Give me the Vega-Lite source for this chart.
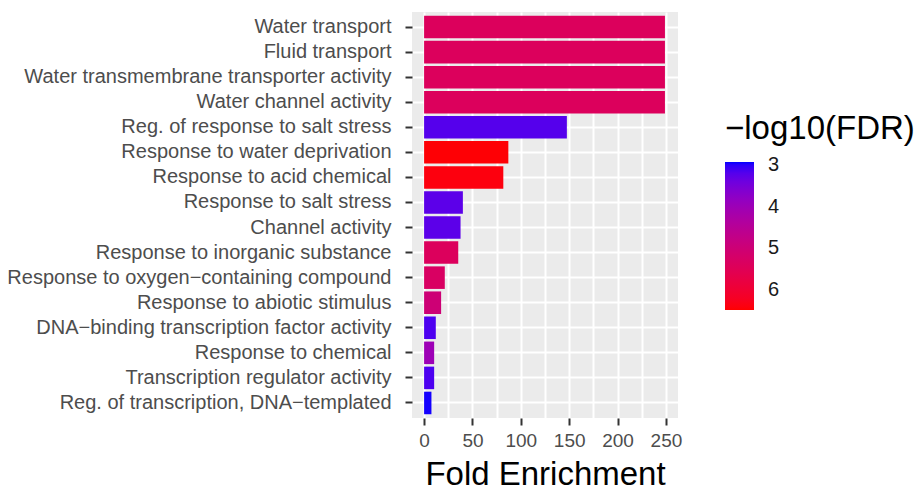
{
  "$schema": "https://vega.github.io/schema/vega-lite/v6.json",
  "autosize": "none",
  "width": 266,
  "height": 406,
  "padding": {"left": 412, "top": 12, "right": 239, "bottom": 76},
  "background": "white",
  "config": {
    "font": "Liberation Sans",
    "view": {"fill": "#EBEBEB", "stroke": null}
  },
  "data": {
    "values": [
      {"term": "Water transport", "fold": 249, "fdr": 5.4},
      {"term": "Fluid transport", "fold": 249, "fdr": 5.4},
      {"term": "Water transmembrane transporter activity", "fold": 249, "fdr": 5.4},
      {"term": "Water channel activity", "fold": 249, "fdr": 5.4},
      {"term": "Reg. of response to salt stress", "fold": 147.6, "fdr": 3.2},
      {"term": "Response to water deprivation", "fold": 87.1, "fdr": 6.45},
      {"term": "Response to acid chemical", "fold": 81.9, "fdr": 6.4},
      {"term": "Response to salt stress", "fold": 40.1, "fdr": 3.25},
      {"term": "Channel activity", "fold": 37.7, "fdr": 3.25},
      {"term": "Response to inorganic substance", "fold": 35.3, "fdr": 5.4},
      {"term": "Response to oxygen−containing compound", "fold": 21.4, "fdr": 5.3},
      {"term": "Response to abiotic stimulus", "fold": 17.6, "fdr": 5.0},
      {"term": "DNA−binding transcription factor activity", "fold": 12.1, "fdr": 3.15},
      {"term": "Response to chemical", "fold": 10.4, "fdr": 4.0},
      {"term": "Transcription regulator activity", "fold": 10.4, "fdr": 3.15},
      {"term": "Reg. of transcription, DNA−templated", "fold": 7.6, "fdr": 2.95}
    ]
  },
  "mark": {"type": "bar"},
  "encoding": {
    "y": {
      "field": "term",
      "type": "nominal",
      "sort": null,
      "scale": {"paddingInner": 0.1, "paddingOuter": 0.15},
      "axis": {
        "title": null,
        "domain": false,
        "bandPosition": 0.5,
        "grid": true,
        "gridColor": "white",
        "gridWidth": 2,
        "tickColor": "#333333",
        "tickWidth": 2,
        "tickSize": 7,
        "labelFontSize": 20,
        "labelColor": "#4D4D4D",
        "labelPadding": 14,
        "labelLimit": 500
      }
    },
    "x": {
      "field": "fold",
      "type": "quantitative",
      "scale": {"domain": [-12.5, 262.5], "nice": false, "zero": false},
      "axis": {
        "title": "Fold Enrichment",
        "values": [0, 25, 50, 75, 100, 125, 150, 175, 200, 225, 250],
        "labelExpr": "datum.value % 50 === 0 ? datum.label : ''",
        "tickOpacity": {"condition": {"test": "datum.value % 50 !== 0", "value": 0}, "value": 1},
        "domain": false,
        "grid": true,
        "gridColor": "white",
        "gridWidth": 2,
        "tickColor": "#333333",
        "tickWidth": 2,
        "tickSize": 7,
        "labelFontSize": 19,
        "labelColor": "#4D4D4D",
        "labelPadding": 6,
        "labelFlush": false,
        "titleFontSize": 33,
        "titleFontWeight": "normal",
        "titleColor": "black",
        "titlePadding": 8
      }
    },
    "x2": {"datum": 0},
    "color": {
      "field": "fdr",
      "type": "quantitative",
      "scale": {"domain": [6.48, 2.93], "range": ["#FF0000", "#0000FF"], "interpolate": "lab", "nice": false, "zero": false},
      "legend": {
        "title": "−log10(FDR)",
        "orient": "none",
        "legendX": 313,
        "legendY": 101,
        "direction": "vertical",
        "values": [3, 4, 5, 6],
        "gradientLength": 148,
        "gradientThickness": 29,
        "gradientStrokeWidth": 0,
        "titleFontSize": 33,
        "titleFontWeight": "normal",
        "titleColor": "black",
        "titlePadding": 16,
        "titleLimit": 400,
        "labelFontSize": 20,
        "labelColor": "#1A1A1A",
        "labelOffset": 14
      }
    }
  }
}
